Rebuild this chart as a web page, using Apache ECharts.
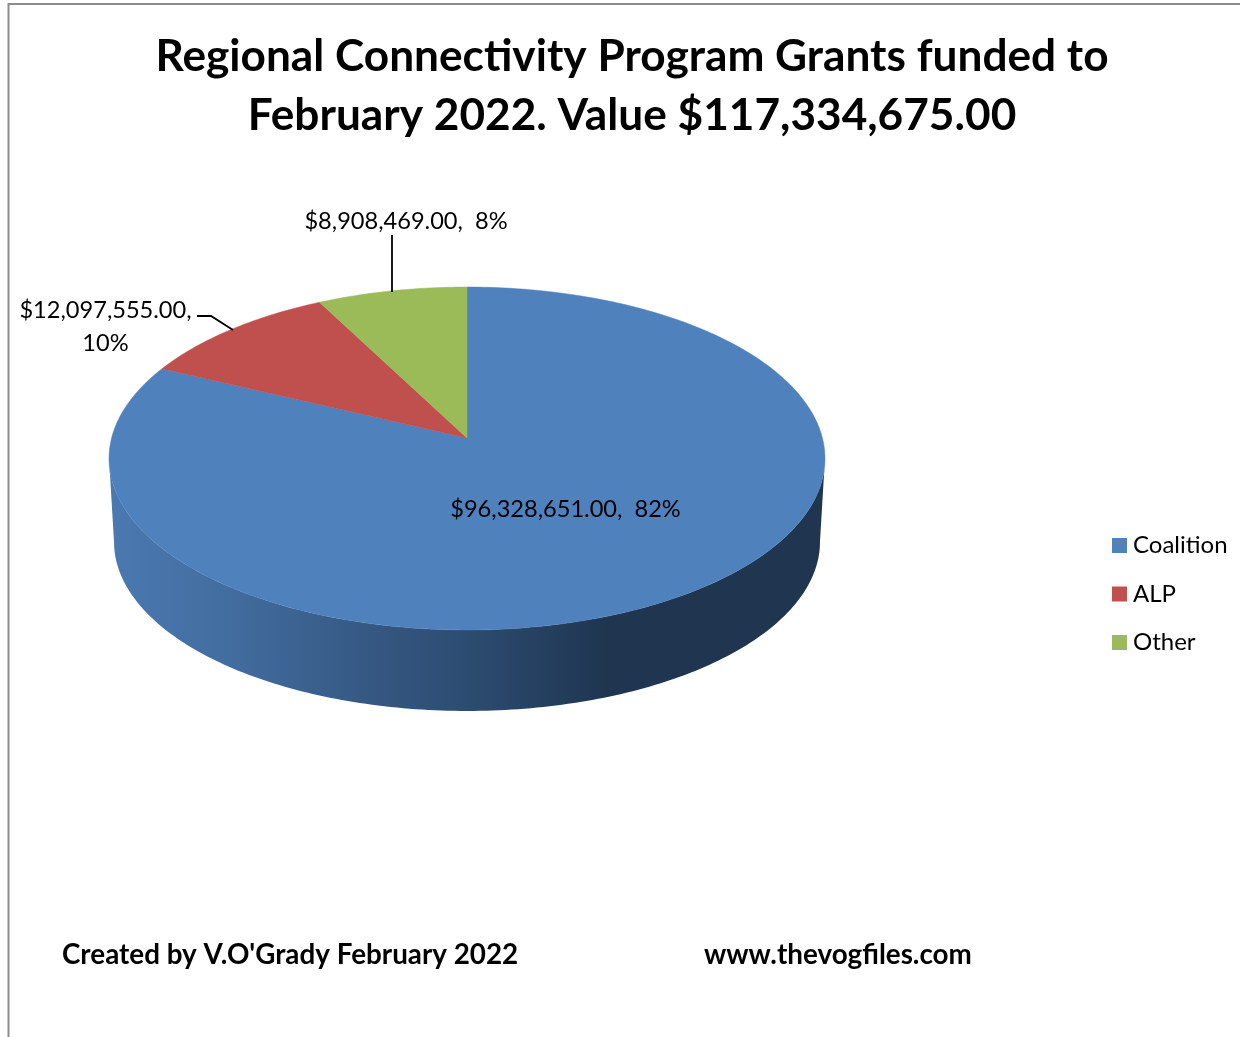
<!DOCTYPE html>
<html>
<head>
<meta charset="utf-8">
<style>html,body{margin:0;padding:0;background:#fff}#c{width:1240px;height:1037px}</style>
<script src="https://cdn.jsdelivr.net/npm/echarts@6/dist/echarts.min.js"></script>
</head>
<body>
<div id="c"></div>
<script>
const categories = ['Coalition', 'ALP', 'Other'];
const grants = [96328651, 12097555, 8908469];
const colors = ['#4f81bd', '#c0504d', '#9bbb59'];
const titleLines = ['Regional Connectivity Program Grants funded to', 'February 2022. Value $117,334,675.00'];
const footerLeft = "Created by V.O'Grady February 2022";
const footerRight = 'www.thevogfiles.com';

const FONT = 'Lato, Carlito, Calibri, sans-serif';
const LABEL_SIZE = 23.6;
const total = grants.reduce((a, b) => a + b, 0);

// Perspective disc: top face and the (slightly smaller, lower) bottom face
const CX = 467, TOP_Y = 438, BOT_Y = 521.7, R = 355.4, H = 169, P = 0.1195, BOT_SCALE = 0.986;
function project(c, s, y0, k) {
  const w = 1 - P * s;
  return [CX + k * R * c / w, y0 + k * H * s / w];
}
function arc(f0, f1) {
  const pts = [];
  const n = Math.max(2, Math.ceil((f1 - f0) * 360));
  for (let i = 0; i <= n; i++) {
    const a = 2 * Math.PI * (f0 + (f1 - f0) * i / n);
    pts.push(project(Math.sin(a), -Math.cos(a), TOP_Y, 1));
  }
  return pts;
}
function wall() {
  const a0 = Math.asin(P), a1 = Math.PI - a0, n = 180, top = [], bot = [];
  for (let i = 0; i <= n; i++) {
    const a = a0 + (a1 - a0) * i / n;
    top.push(project(Math.cos(a), Math.sin(a), TOP_Y, 1));
    bot.push(project(Math.cos(a), Math.sin(a), BOT_Y, BOT_SCALE));
  }
  return top.concat(bot.reverse());
}
const wallFill = {
  type: 'linear', global: true, x: 115, y: 0, x2: 820, y2: 0,
  colorStops: [
    { offset: 0, color: '#4a78b0' },
    { offset: 0.16, color: '#426d9f' },
    { offset: 0.38, color: '#345680' },
    { offset: 0.52, color: '#2b4a6e' },
    { offset: 0.70, color: '#1f3550' },
    { offset: 1, color: '#1f3550' }
  ]
};
const money = v => '$' + v.toLocaleString('en-US', { minimumFractionDigits: 2, maximumFractionDigits: 2 });
const textEl = (text, x, y) => ({
  type: 'text', z2: 20,
  style: { text, x, y, fill: '#000', font: LABEL_SIZE + 'px ' + FONT, align: 'center', verticalAlign: 'middle' }
});
const leader = pts => ({
  type: 'polyline', z2: 19,
  shape: { points: pts },
  style: { stroke: '#000', lineWidth: 1.8, fill: 'none' }
});
const decorations = [
  (v, pct) => [textEl(money(v) + ',  ' + pct + '%', 565.5, 509)],
  (v, pct) => [
    textEl(money(v) + ',', 105.5, 310), textEl(pct + '%', 105.5, 343),
    leader([[197, 316], [211, 316], [233, 330]])
  ],
  (v, pct) => [
    textEl(money(v) + ',  ' + pct + '%', 406, 221),
    leader([[392, 235], [392, 292]])
  ]
];

let running = 0;
const series = categories.map((name, i) => {
  const start = running / total;
  running += grants[i];
  const end = running / total;
  return {
    name, type: 'custom', coordinateSystem: 'none',
    itemStyle: { color: colors[i] },
    data: [[grants[i], start, end]],
    renderItem(params, api) {
      const v = api.value(0), f0 = api.value(1), f1 = api.value(2);
      const kids = [];
      if (i === 0) {
        kids.push({ type: 'polygon', z2: 1, shape: { points: wall() }, style: { fill: wallFill } });
      }
      kids.push({
        type: 'polygon', z2: 5,
        shape: { points: [[CX, TOP_Y]].concat(arc(f0, f1)) },
        style: { fill: colors[i], stroke: colors[i], lineWidth: 0.5 }
      });
      decorations[i](v, Math.round(v / total * 100)).forEach(k => kids.push(k));
      return { type: 'group', children: kids };
    }
  };
});

const chart = echarts.init(document.getElementById('c'), null, { renderer: 'canvas' });
chart.setOption({
  animation: false,
  backgroundColor: '#fff',
  title: [
    { text: titleLines.join('\n'), left: 627, top: 22, textAlign: 'center',
      textStyle: { fontFamily: FONT, fontWeight: 'bold', fontSize: 44.2, lineHeight: 59, color: '#000' } },
    { text: footerLeft, left: 57, top: 934,
      textStyle: { fontFamily: FONT, fontWeight: 'bold', fontSize: 27.8, lineHeight: 32, color: '#000' } },
    { text: footerRight, left: 699, top: 934,
      textStyle: { fontFamily: FONT, fontWeight: 'bold', fontSize: 27.8, lineHeight: 32, color: '#000' } }
  ],
  legend: {
    data: categories, orient: 'vertical', left: 1112, top: 533, align: 'left',
    padding: 0, icon: 'rect', itemWidth: 15, itemHeight: 15, itemGap: 23.5, selectedMode: false,
    textStyle: { fontFamily: FONT, fontSize: 24, lineHeight: 25, color: '#000', padding: [0, 0, 0, 1] }
  },
  graphic: [
    { type: 'polyline', silent: true,
      shape: { points: [[8.5, 1037], [8.5, 4], [1240, 4]] },
      style: { stroke: '#8c8c8c', lineWidth: 2, fill: 'none' } }
  ],
  series
});
</script>
</body>
</html>
